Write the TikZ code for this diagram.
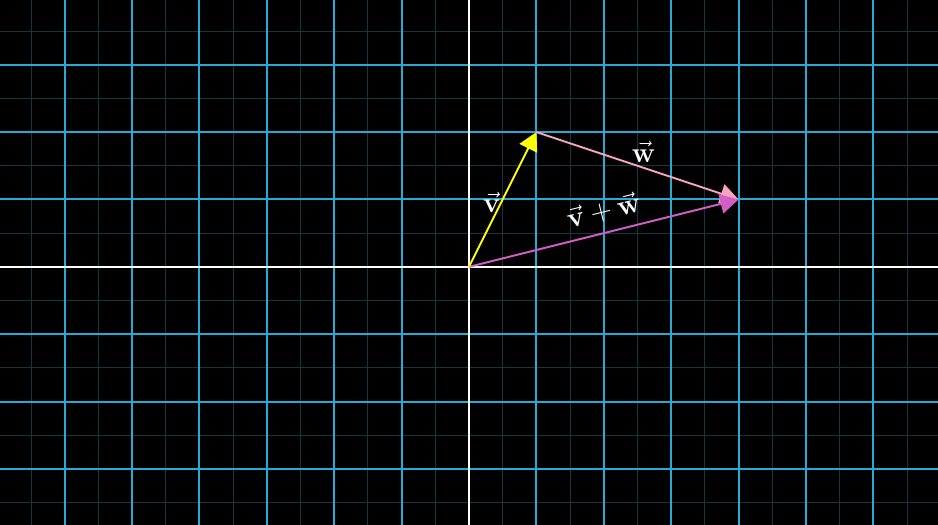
\documentclass[tikz,border=0pt]{standalone}
\usepackage{amsmath}
\usepackage{tikz}
\usetikzlibrary{arrows.meta,calc}
\definecolor{gridmaj}{HTML}{29A9D6}
\definecolor{gridmin}{HTML}{143642}
\definecolor{vyel}{HTML}{FFFF00}
\definecolor{wpink}{HTML}{F7A5BE}
\definecolor{sumpur}{HTML}{D35FC6}
\tikzset{
  minorline/.style={gridmin, line width=0.4pt},
  majorline/.style={gridmaj, line width=0.85pt},
  axisline/.style={white, line width=0.9pt},
  vec/.style={line width=0.8pt, -{Triangle[length=2.7mm, width=2.9mm]}},
  lbl/.style={text=white, font=\large, inner sep=1pt},
}

\begin{document}
\begin{tikzpicture}[x=1cm, y=1cm]
    % background and frame
    \fill[black] (-6.96,-3.83) rectangle (6.96,3.96);
    \useasboundingbox (-6.96,-3.83) rectangle (6.96,3.96);

    % grid: half steps faint, whole steps blue
    \foreach \i in {-13,...,13}
      { \draw[minorline] (\i/2,-3.83) -- (\i/2,3.96); }
    \foreach \j in {-7,...,7}
      { \draw[minorline] (-6.96,\j/2) -- (6.96,\j/2); }
    \foreach \i in {-6,...,6}
      { \draw[majorline] (\i,-3.83) -- (\i,3.96); }
    \foreach \j in {-3,...,3}
      { \draw[majorline] (-6.96,\j) -- (6.96,\j); }

    % axes
    \draw[axisline] (-6.96,0) -- (6.96,0);
    \draw[axisline] (0,-3.83) -- (0,3.96);

    % vectors
    \coordinate (O) at (0,0);
    \coordinate (V) at (1,2);
    \coordinate (VW) at (4,1);
    \draw[vec, wpink] (V) -- (VW) node[lbl, pos=0.53, above=1pt] {$\vec{\mathbf{w}}$};
    \draw[vec, sumpur] (O) -- (VW) node[lbl, pos=0.52, above=3pt, sloped] {$\vec{\mathbf{v}} + \vec{\mathbf{w}}$};
    \draw[vec, vyel] (O) -- (V) node[lbl, pos=0.48, left=-1pt] {$\vec{\mathbf{v}}$};
  \end{tikzpicture}
\end{document}
